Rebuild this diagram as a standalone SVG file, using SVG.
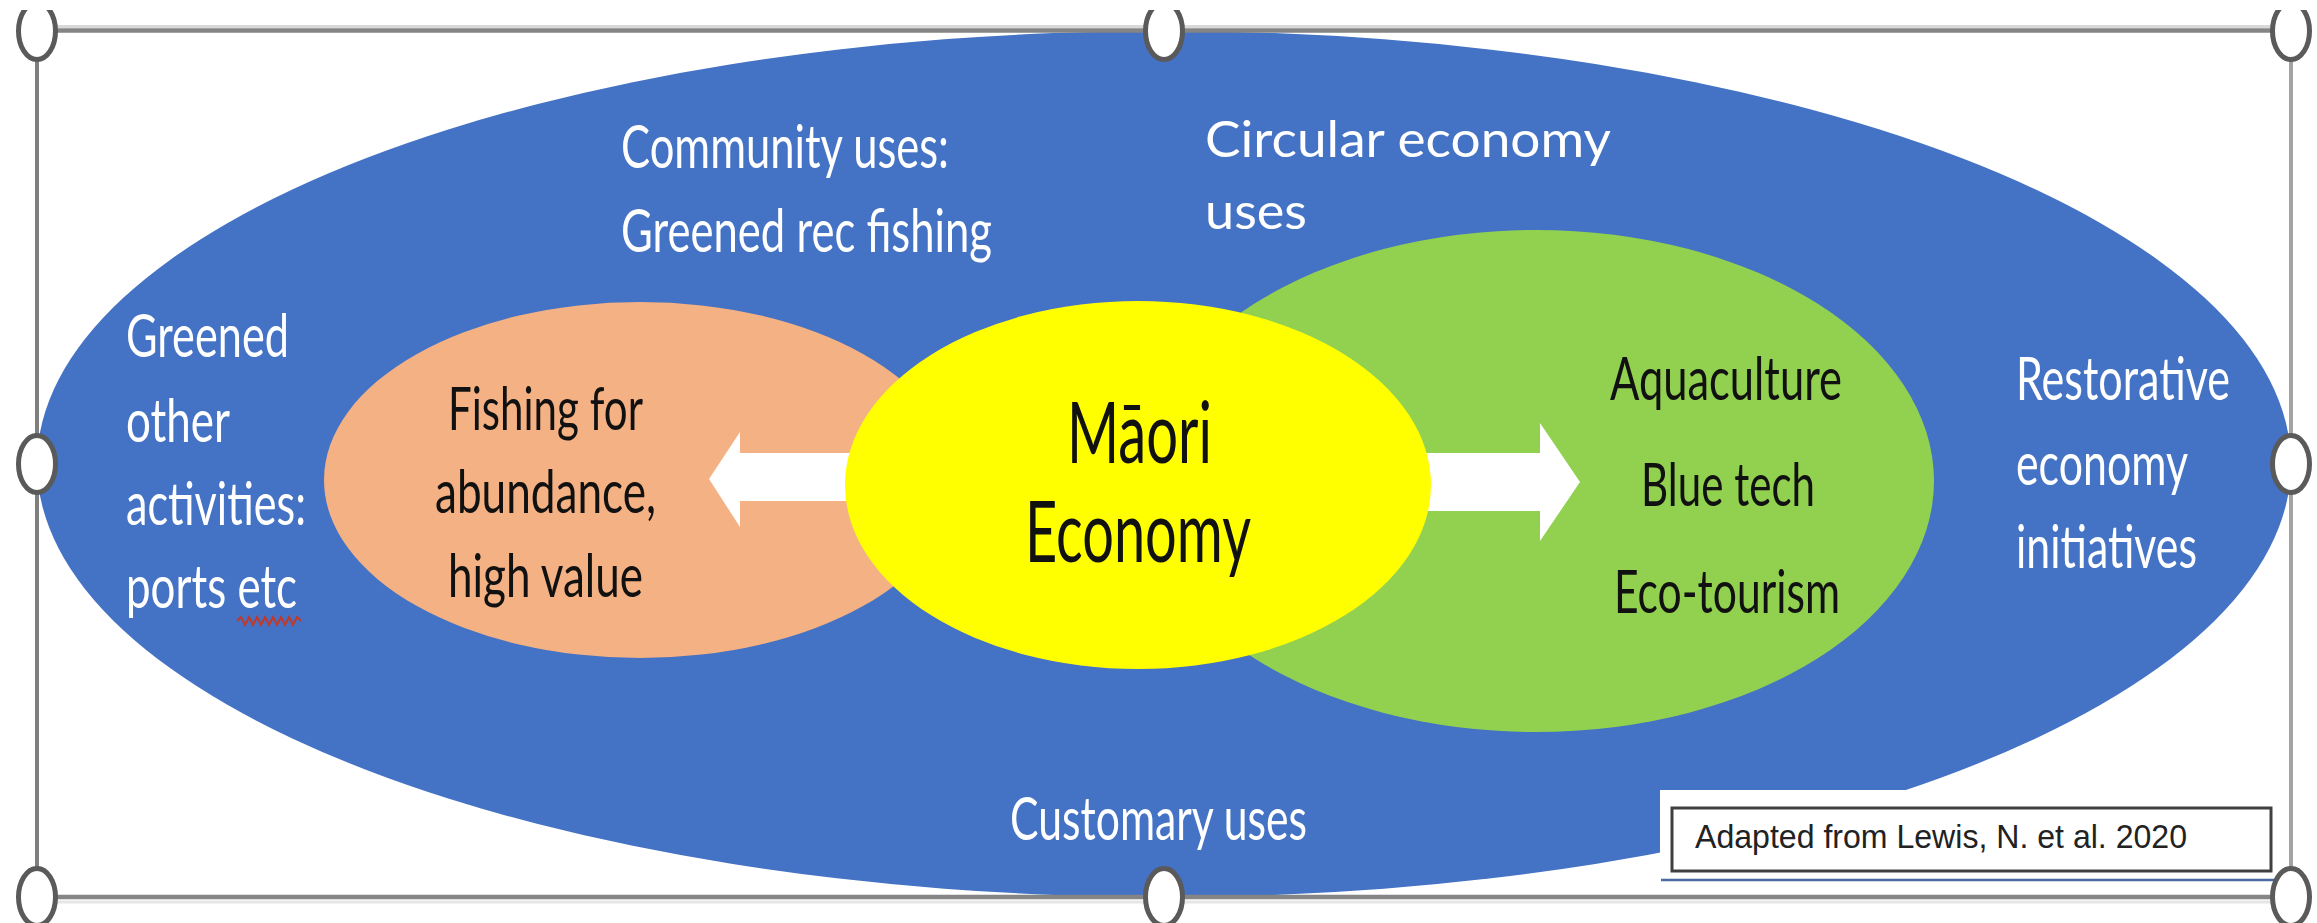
<svg xmlns="http://www.w3.org/2000/svg" width="2317" height="923" viewBox="0 0 2317 923">
  <defs>
    <style>
      .lbl { font-family: Lato, "Open Sans", "Liberation Sans", sans-serif; font-size: 60px; }
      .wht { fill: #ffffff; }
      .blk { fill: #111111; }
      .big { font-size: 86px; }
      .circ { font-family: Lato, "Open Sans", "Liberation Sans", sans-serif; font-size: 50px; fill: #ffffff; }
      .cite { font-family: "Liberation Sans", Arial, sans-serif; font-size: 34px; fill: #222222; }
      .handle { fill: #ffffff; stroke: #5a5a5a; stroke-width: 5; }
      .arrow { fill: #ffffff; }
    </style>
  </defs>

  <rect x="0" y="0" width="2317" height="923" fill="#ffffff"/>

  <g id="economy-space">
    <ellipse cx="1164" cy="464" rx="1127" ry="433" fill="#4472C4"/>
  </g>

  <g id="fishing-node">
    <ellipse cx="640" cy="480" rx="316" ry="178" fill="#F4B183"/>
  </g>

  <g id="circular-node">
    <ellipse cx="1536" cy="481" rx="398" ry="251" fill="#92D050"/>
  </g>

  <g id="connectors">
    <polygon class="arrow" points="709,479 740,432 740,453 870,453 870,501 740,501 740,527"/>
    <polygon class="arrow" points="1410,453 1540,453 1540,423 1580,482 1540,541 1540,511 1410,511"/>
  </g>

  <g id="maori-node">
    <ellipse cx="1138" cy="485" rx="293" ry="184" fill="#FFFF00"/>
    <text class="lbl big blk" x="1067" y="463" textLength="145" lengthAdjust="spacingAndGlyphs">Māori</text>
    <text class="lbl big blk" x="1025" y="562" textLength="226" lengthAdjust="spacingAndGlyphs">Economy</text>
  </g>

  <g id="fishing-labels">
    <text class="lbl blk" x="448" y="430" textLength="195" lengthAdjust="spacingAndGlyphs">Fishing for</text>
    <text class="lbl blk" x="435" y="513" textLength="221" lengthAdjust="spacingAndGlyphs">abundance,</text>
    <text class="lbl blk" x="448" y="597" textLength="195" lengthAdjust="spacingAndGlyphs">high value</text>
  </g>

  <g id="circular-labels">
    <text class="lbl blk" x="1610" y="400" textLength="232" lengthAdjust="spacingAndGlyphs">Aquaculture</text>
    <text class="lbl blk" x="1641" y="506" textLength="174" lengthAdjust="spacingAndGlyphs">Blue tech</text>
    <text class="lbl blk" x="1614" y="613" textLength="226" lengthAdjust="spacingAndGlyphs">Eco-tourism</text>
  </g>

  <g id="greened-other">
    <text class="lbl wht" x="126" y="357" textLength="163" lengthAdjust="spacingAndGlyphs">Greened</text>
    <text class="lbl wht" x="126" y="442" textLength="104" lengthAdjust="spacingAndGlyphs">other</text>
    <text class="lbl wht" x="126" y="525" textLength="180" lengthAdjust="spacingAndGlyphs">activities:</text>
    <text class="lbl wht" x="126" y="608" textLength="171" lengthAdjust="spacingAndGlyphs">ports etc</text>
    <path d="M237,621 l4,-4 l4,8 l4,-8 l4,8 l4,-8 l4,8 l4,-8 l4,8 l4,-8 l4,8 l4,-8 l4,8 l4,-8 l4,8 l4,-8 l4,4" fill="none" stroke="#c0392b" stroke-width="2"/>
  </g>

  <g id="community-uses">
    <text class="lbl wht" x="621" y="168" textLength="328" lengthAdjust="spacingAndGlyphs">Community uses:</text>
    <text class="lbl wht" x="621" y="252" textLength="371" lengthAdjust="spacingAndGlyphs">Greened rec fishing</text>
  </g>

  <g id="circular-economy-uses">
    <text class="circ" x="1205" y="157" textLength="406" lengthAdjust="spacingAndGlyphs">Circular economy</text>
    <text class="circ" x="1205" y="229" textLength="102" lengthAdjust="spacingAndGlyphs">uses</text>
  </g>

  <g id="restorative">
    <text class="lbl wht" x="2016" y="400" textLength="214" lengthAdjust="spacingAndGlyphs">Restorative</text>
    <text class="lbl wht" x="2016" y="485" textLength="172" lengthAdjust="spacingAndGlyphs">economy</text>
    <text class="lbl wht" x="2016" y="568" textLength="181" lengthAdjust="spacingAndGlyphs">initiatives</text>
  </g>

  <g id="customary">
    <text class="lbl wht" x="1010" y="840" textLength="297" lengthAdjust="spacingAndGlyphs">Customary uses</text>
  </g>

  <g id="citation">
    <rect x="1660" y="790" width="631" height="107" fill="#ffffff"/>
    <rect x="1672" y="808" width="599" height="63" fill="#ffffff" stroke="#404040" stroke-width="3"/>
    <text class="cite" x="1695" y="848" textLength="492" lengthAdjust="spacingAndGlyphs">Adapted from Lewis, N. et al. 2020</text>
    <line x1="1661" y1="880" x2="2278" y2="880" stroke="#4a6aa5" stroke-width="2.5"/>
  </g>

  <g id="frame">
    <line x1="37" y1="26.5" x2="2291" y2="26.5" stroke="#d9d9d9" stroke-width="3"/>
    <line x1="37" y1="30.5" x2="2291" y2="30.5" stroke="#858585" stroke-width="4.5"/>
    <line x1="37" y1="897" x2="2291" y2="897" stroke="#858585" stroke-width="4.5"/>
    <line x1="37" y1="902" x2="2291" y2="902" stroke="#e6e6e6" stroke-width="3"/>
    <line x1="37" y1="31" x2="37" y2="897" stroke="#7f7f7f" stroke-width="4"/>
    <line x1="2291" y1="31" x2="2291" y2="897" stroke="#a3a3a3" stroke-width="4"/>
  </g>

  <g id="handles">
    <ellipse class="handle" cx="37" cy="31" rx="18.5" ry="28.5"/>
    <ellipse class="handle" cx="1164" cy="31" rx="18.5" ry="28.5"/>
    <ellipse class="handle" cx="2291" cy="31" rx="18.5" ry="28.5"/>
    <ellipse class="handle" cx="37" cy="464" rx="18.5" ry="28.5"/>
    <ellipse class="handle" cx="2291" cy="464" rx="18.5" ry="28.5"/>
    <ellipse class="handle" cx="37" cy="897" rx="18.5" ry="28.5"/>
    <ellipse class="handle" cx="1164" cy="897" rx="18.5" ry="28.5"/>
    <ellipse class="handle" cx="2291" cy="897" rx="18.5" ry="28.5"/>
    <rect x="0" y="0" width="2317" height="10" fill="#ffffff"/>
  </g>
</svg>
